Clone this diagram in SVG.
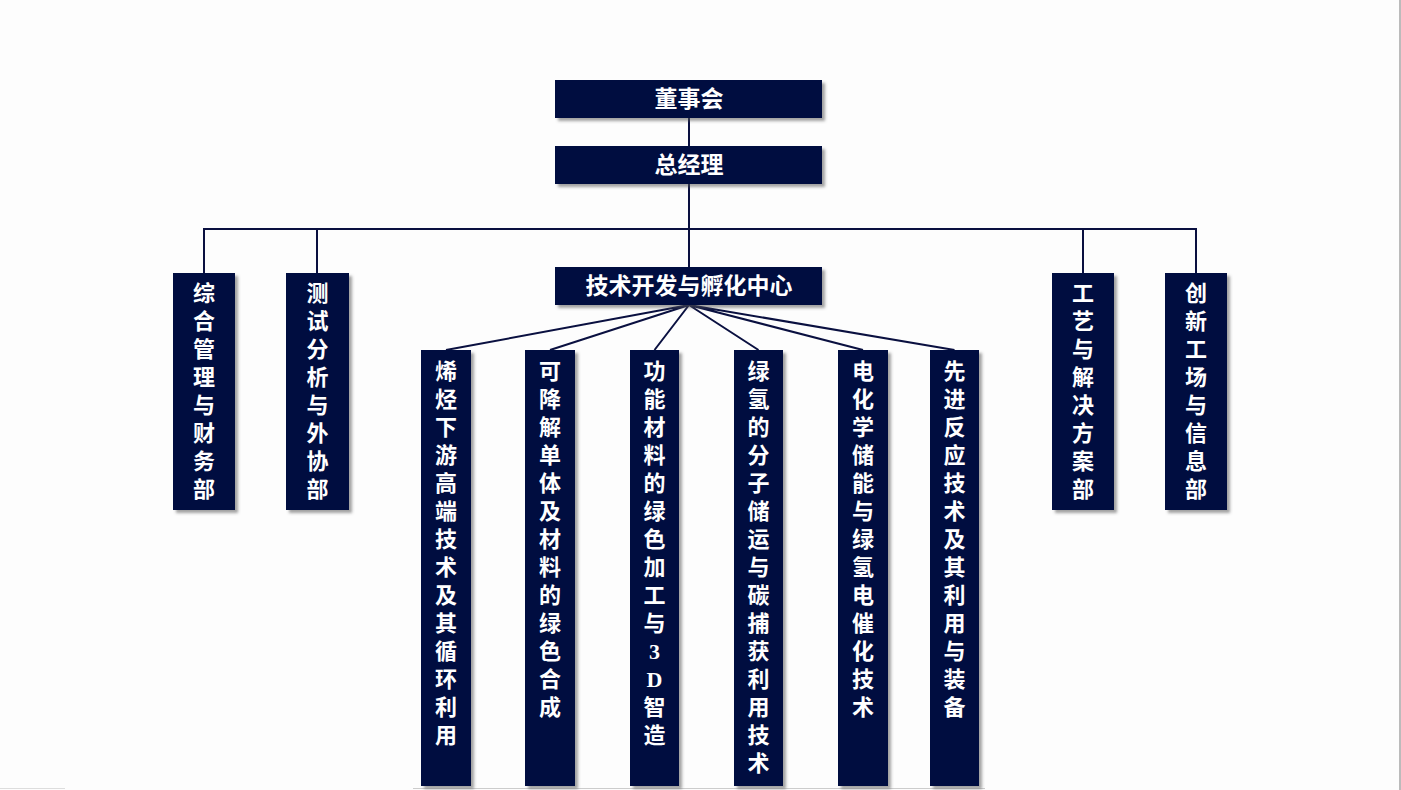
<svg xmlns="http://www.w3.org/2000/svg" width="1401" height="790" viewBox="0 0 1401 790">
<defs>
<filter id="sh" x="-20%" y="-20%" width="140%" height="140%">
<feDropShadow dx="3" dy="3" stdDeviation="1.6" flood-color="#555" flood-opacity="0.55"/>
</filter>
<style>
.box{fill:#030b40;filter:url(#sh);}
.t{fill:#fff;font-family:"Liberation Serif","Noto Sans CJK SC",serif;font-weight:bold;text-anchor:middle;dominant-baseline:central;}
.h{font-size:23px;}
.v{font-size:22px;}
.c{stroke:#0a1040;stroke-width:2;fill:none;}
</style>
</defs>
<rect x="0" y="0" width="1401" height="790" fill="#fdfdfd"/>
<line x1="1400" y1="0" x2="1400" y2="790" stroke="#bbb" stroke-width="2"/>
<line x1="413" y1="788.5" x2="985" y2="788.5" stroke="#ccc" stroke-width="1"/>
<line x1="0" y1="788.5" x2="65" y2="788.5" stroke="#ddd" stroke-width="1"/>

<g id="connectors">
<path class="c" d="M689 118V146M689 184V268M204 273V229H1196V273M317 229V273M1083 229V273"/>
<path class="c" d="M689 305L446 350M689 305L550 350M689 305L654.5 350M689 305L758.5 350M689 305L863 350M689 305L954.5 350"/>
</g>

<g id="n-board"><rect class="box" x="555" y="80" width="267" height="38"/><text class="t h" x="689" y="99">董事会</text></g>
<g id="n-gm"><rect class="box" x="555" y="146" width="267" height="38"/><text class="t h" x="689" y="165">总经理</text></g>
<g id="n-tech"><rect class="box" x="555" y="267" width="267" height="38"/><text class="t h" x="689" y="286">技术开发与孵化中心</text></g>

<g id="n-admin"><rect class="box" x="173" y="273" width="62" height="237"/><text class="t v" x="204 204 204 204 204 204 204 204" y="293 321 349 377 405 433 461 489">综合管理与财务部</text></g>
<g id="n-test"><rect class="box" x="286" y="273" width="63" height="237"/><text class="t v" x="317.5 317.5 317.5 317.5 317.5 317.5 317.5 317.5" y="293 321 349 377 405 433 461 489">测试分析与外协部</text></g>
<g id="n-process"><rect class="box" x="1052" y="273" width="62" height="237"/><text class="t v" x="1083 1083 1083 1083 1083 1083 1083 1083" y="293 321 349 377 405 433 461 489">工艺与解决方案部</text></g>
<g id="n-innov"><rect class="box" x="1165" y="273" width="62" height="237"/><text class="t v" x="1196 1196 1196 1196 1196 1196 1196 1196" y="293 321 349 377 405 433 461 489">创新工场与信息部</text></g>

<g id="n-olefin"><rect class="box" x="421" y="350" width="50" height="436"/><text class="t v" x="446 446 446 446 446 446 446 446 446 446 446 446 446 446" y="371 399 427 455 483 511 539 567 595 623 651 679 707 735">烯烃下游高端技术及其循环利用</text></g>
<g id="n-degrad"><rect class="box" x="525" y="350" width="50" height="436"/><text class="t v" x="550 550 550 550 550 550 550 550 550 550 550 550 550" y="371 399 427 455 483 511 539 567 595 623 651 679 707">可降解单体及材料的绿色合成</text></g>
<g id="n-func"><rect class="box" x="630" y="350" width="49" height="436"/><text class="t v" x="654.5 654.5 654.5 654.5 654.5 654.5 654.5 654.5 654.5 654.5 654.5 654.5 654.5 654.5" y="371 399 427 455 483 511 539 567 595 623 651 679 707 735">功能材料的绿色加工与3D智造</text></g>
<g id="n-h2"><rect class="box" x="734" y="350" width="49" height="436"/><text class="t v" x="758.5 758.5 758.5 758.5 758.5 758.5 758.5 758.5 758.5 758.5 758.5 758.5 758.5 758.5 758.5" y="371 399 427 455 483 511 539 567 595 623 651 679 707 735 763">绿氢的分子储运与碳捕获利用技术</text></g>
<g id="n-echem"><rect class="box" x="838" y="350" width="50" height="436"/><text class="t v" x="863 863 863 863 863 863 863 863 863 863 863 863 863" y="371 399 427 455 483 511 539 567 595 623 651 679 707">电化学储能与绿氢电催化技术</text></g>
<g id="n-react"><rect class="box" x="930" y="350" width="49" height="436"/><text class="t v" x="954.5 954.5 954.5 954.5 954.5 954.5 954.5 954.5 954.5 954.5 954.5 954.5 954.5" y="371 399 427 455 483 511 539 567 595 623 651 679 707">先进反应技术及其利用与装备</text></g>
</svg>
